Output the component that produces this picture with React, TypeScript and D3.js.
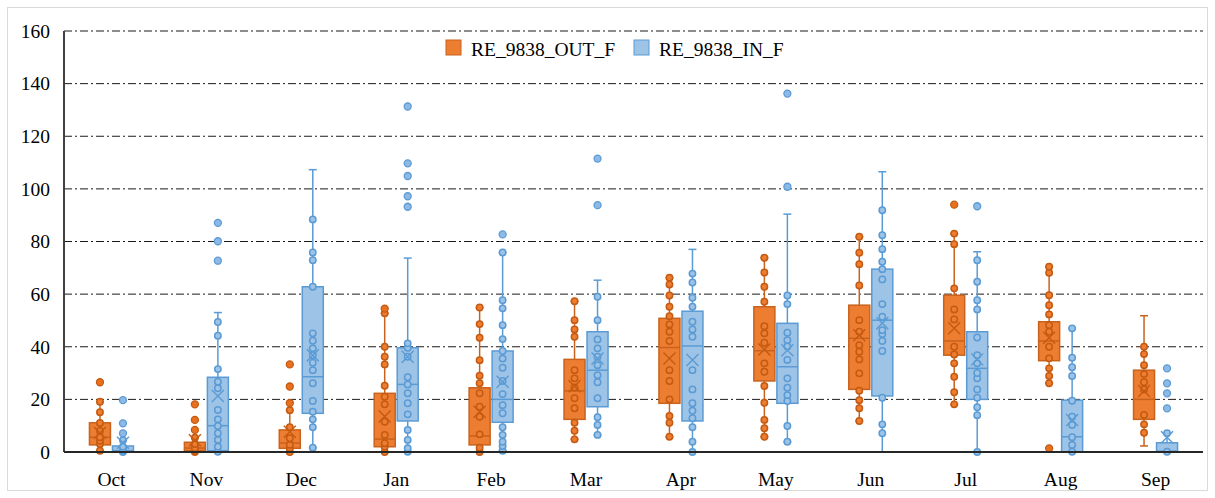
import React from "react";
import * as d3 from "d3";

// ---------- DATA ----------
const months = ["Oct", "Nov", "Dec", "Jan", "Feb", "Mar", "Apr", "May", "Jun", "Jul", "Aug", "Sep"];
const yTicks = [0, 20, 40, 60, 80, 100, 120, 140, 160];
const seriesNames = ["RE_9838_OUT_F", "RE_9838_IN_F"];

// RE_9838_OUT_F
const outMin = [0.5, 0, 0, 0, 0, 4.8, 5.8, 5.8, 11.8, 18.1, 26.1, 2.3];
const outQ1 = [2.7, 0.5, 1.4, 2.0, 2.7, 12.4, 18.5, 27, 23.8, 36.8, 34.7, 12.4];
const outMedian = [5.6, 1.5, 3.4, 4.9, 6.1, 23.2, 39.7, 38.5, 43.2, 42.2, 42.2, 20];
const outQ3 = [11.1, 3.7, 8.4, 22.3, 24.4, 35.2, 50.8, 55.2, 55.8, 59.6, 49.5, 31.1];
const outMax = [19.1, 5.4, 15.9, 52.7, 54.9, 57.3, 66.2, 73.8, 81.8, 83, 70.4, 51.8];
const outMean = [7.2, 4.5, 7.7, 13.5, 15.3, 25, 35.5, 39, 44.4, 47, 43.4, 23.2];
const outInner = [
  [0.5, 3, 4.3, 5.6, 8, 11, 15.1, 19.1],
  [0, 0.5, 1.5, 3, 5.4],
  [0, 1.4, 2.7, 5.2, 9.4, 15.9],
  [0, 2, 3.3, 6.5, 11.5, 18.1, 21, 25.2, 33.3, 36.2, 40, 52.7],
  [0, 1.6, 6.7, 13.4, 17.2, 22.3, 26.1, 29, 34.9, 43.4, 48.6, 54.9],
  [4.8, 8.1, 11.1, 16.6, 20.4, 24.5, 28, 31.1, 43.8, 46.6, 50.1, 57.3],
  [5.8, 11.1, 13.7, 20, 27, 31.1, 42.2, 45.7, 48.5, 51.6, 55.2, 59.5, 63.7, 66.2],
  [5.8, 9, 12.2, 18.7, 25.1, 30.5, 33.7, 41.5, 45.1, 47.8, 57.1, 62.8, 68.2, 73.8],
  [11.8, 16.6, 19.7, 23.3, 29.9, 35.2, 38.1, 40.6, 45.7, 50.1, 63.3, 71.4, 75.7, 81.8],
  [18.1, 22.7, 28.6, 33.7, 37.1, 40, 50.4, 54.2, 62.2, 79, 83],
  [26.1, 28.9, 31.8, 35.6, 40, 45.7, 48.2, 52.3, 55.8, 59.6, 68.1, 70.4],
  [7.3, 10.5, 14.1, 23.8, 26.5, 29.6, 33, 37.2, 40],
];
const outOutliers = [
  [26.5], [8.4, 12.2, 18.1], [18.6, 24.9, 33.3], [54.5], [], [], [], [], [], [94], [1.4], [],
];

// RE_9838_IN_F
const inMin = [0, 0, 1.6, 0, 0.5, 6.5, 0, 3.9, 0, 0, 0, 0];
const inQ1 = [0, 0.5, 14.7, 11.8, 11.3, 17.2, 11.8, 18.5, 21.3, 20, 0, 0];
const inMedian = [0.5, 10, 28.6, 25.7, 20, 31.1, 40.3, 32.4, 50.1, 31.8, 5.8, 0.3];
const inQ3 = [2.3, 28.4, 62.8, 39.6, 38.4, 45.7, 53.5, 48.9, 69.5, 45.7, 19.7, 3.5];
const inMax = [4.5, 53, 107.3, 73.7, 75.8, 65.3, 77, 90.4, 106.5, 76.1, 47, 7.1];
const inMean = [3.5, 21.3, 36.8, 36.2, 26.7, 35.5, 35, 38.7, 48.9, 35.2, 12.2, 5.6];
const inInner = [
  [0, 0.5, 1, 2, 4.5],
  [0.1, 2, 4.6, 7.1, 9.9, 12.4, 16, 24.2, 26.7, 31.5, 44.2, 49.4],
  [1.6, 9.4, 12.4, 15.3, 19.4, 26.1, 31.1, 33.9, 36.8, 39.4, 42.3, 45.1, 62.8, 72.9, 75.8, 88.4],
  [0.1, 1.4, 4.6, 8.4, 14.3, 18.5, 22.3, 25.7, 28.4, 36.2, 39.6, 41.3],
  [0.5, 2.3, 3.9, 6.5, 9.4, 14.7, 17.8, 22, 27, 32, 35.5, 38.4, 42.9, 48.2, 54.6, 57.7, 75.8],
  [6.5, 10.3, 13.2, 20.4, 26.5, 29.2, 33, 36.2, 39.4, 42.8, 50.1, 59],
  [0, 3.9, 9.4, 12.8, 15.7, 18.5, 23.8, 31.1, 43.8, 46.6, 49.5, 55.2, 58.6, 64.4, 67.8],
  [3.9, 9.9, 19.4, 21.6, 24.4, 28, 35, 40.1, 42.5, 45.3, 56.2, 59.5],
  [7.1, 10.5, 20.6, 38.4, 42.2, 44.8, 46.3, 51.4, 56.2, 65.6, 69.5, 72.3, 77.1, 82.4, 91.9],
  [0, 14, 17, 20.6, 23.8, 28, 30, 33.7, 36.8, 43.5, 54.2, 57.7, 64.7, 72.9],
  [0.1, 2.7, 5.6, 10.3, 13.4, 19.5, 28.9, 32.2, 35.8, 47],
  [0.1, 7.1],
];
const inOutliers = [
  [7.1, 10.9, 19.7], [72.7, 80.1, 87.1], [], [93.2, 97.2, 104.9, 109.7, 131.3], [82.7],
  [93.8, 111.5], [], [100.8, 136.2], [], [93.4], [], [16.6, 22.3, 26.1, 31.8],
];

// ---------- STYLE ----------
const W = 1215;
const H = 498;
const FONT = "Liberation Serif, Times New Roman, DejaVu Serif, serif";
const styles = [
  { fill: "#ED7D31", stroke: "#C9621C", ptFill: "#E8711F", ptStroke: "#C55A11" },
  { fill: "#9DC3E6", stroke: "#5B9BD5", ptFill: "#8DB9E4", ptStroke: "#5B9BD5" },
];

export default function App() {
  const x = d3.scaleBand<string>().domain(months).range([64, 1203]).padding(0);
  const y = d3.scaleLinear().domain([0, 160]).range([452, 31]);
  const boxW = 23;

  const series = [
    { min: outMin, q1: outQ1, med: outMedian, q3: outQ3, max: outMax, mean: outMean, inner: outInner, outl: outOutliers },
    { min: inMin, q1: inQ1, med: inMedian, q3: inQ3, max: inMax, mean: inMean, inner: inInner, outl: inOutliers },
  ];

  const left = 64;
  const right = 1203;

  return (
    <svg width={W} height={H} style={{ position: "absolute", left: 0, top: 0, background: "#fff", fontFamily: FONT }}>
      <rect x={7.5} y={7.5} width={1200} height={483} fill="#fff" stroke="#d9d9d9" strokeWidth={1} />
      {/* gridlines */}
      {yTicks.filter((t) => t > 0).map((t) => (
        <line key={"g" + t} x1={left} x2={right} y1={y(t)} y2={y(t)} stroke="#000" strokeWidth={0.9}
          strokeDasharray="8,3,2,3" />
      ))}
      {/* y tick labels */}
      {yTicks.map((t) => (
        <text key={"yl" + t} x={50} y={y(t)} dy="0.35em" textAnchor="end" style={{ fontFamily: FONT }} fontSize={19.5} fill="#000">
          {t}
        </text>
      ))}
      {/* x labels */}
      {months.map((m) => (
        <text key={"xl" + m} x={(x(m) as number) + x.bandwidth() / 2} y={486} textAnchor="middle"
          style={{ fontFamily: FONT }} fontSize={19.5} fill="#000">
          {m}
        </text>
      ))}
      {/* boxes */}
      {months.map((m, i) => {
        const c = (x(m) as number) + x.bandwidth() / 2;
        return series.map((s, si) => {
          const st = styles[si];
          const x0 = si === 0 ? c - boxW : c;
          const cx = x0 + boxW / 2;
          const capW = 4;
          const m0 = s.mean[i];
          const xs = 6;
          return (
            <g key={m + si}>
              <line x1={cx} x2={cx} y1={y(s.q3[i])} y2={y(s.max[i])} stroke={st.stroke} strokeWidth={1.5} />
              <line x1={cx} x2={cx} y1={y(s.q1[i])} y2={y(s.min[i])} stroke={st.stroke} strokeWidth={1.5} />
              <line x1={cx - capW} x2={cx + capW} y1={y(s.max[i])} y2={y(s.max[i])} stroke={st.stroke} strokeWidth={1.5} />
              <line x1={cx - capW} x2={cx + capW} y1={y(s.min[i])} y2={y(s.min[i])} stroke={st.stroke} strokeWidth={1.5} />
              <rect x={x0 + 1} y={y(s.q3[i])} width={boxW - 2} height={Math.max(0.5, y(s.q1[i]) - y(s.q3[i]))}
                fill={st.fill} stroke={st.stroke} strokeWidth={1.5} />
              <line x1={x0 + 1} x2={x0 + boxW - 1} y1={y(s.med[i])} y2={y(s.med[i])} stroke={st.stroke} strokeWidth={1.5} />
              {s.inner[i].map((v, k) => (
                <circle key={"i" + k} cx={cx} cy={y(v)} r={3.2} fill={st.fill} stroke={st.ptStroke} strokeWidth={1.5} />
              ))}
              {s.outl[i].map((v, k) => (
                <circle key={"o" + k} cx={cx} cy={y(v)} r={3.5} fill={st.ptFill} stroke={st.ptStroke} strokeWidth={1.3} />
              ))}
              <path d={`M${cx - xs},${y(m0) - xs}L${cx + xs},${y(m0) + xs}M${cx - xs},${y(m0) + xs}L${cx + xs},${y(m0) - xs}`}
                stroke={st.ptStroke} strokeWidth={1.4} fill="none" />
            </g>
          );
        });
      })}
      {/* axes */}
      <line x1={left} x2={left} y1={31} y2={452} stroke="#404040" strokeWidth={2} />
      <line x1={left} x2={right} y1={452} y2={452} stroke="#262626" strokeWidth={1.8} />
      {/* legend */}
      <rect x={446} y={40} width={15} height={15} fill={styles[0].fill} stroke={styles[0].stroke} strokeWidth={1} />
      <text x={471} y={55.5} style={{ fontFamily: FONT }} fontSize={19.5} fill="#000">{seriesNames[0]}</text>
      <rect x={634} y={40} width={15} height={15} fill={styles[1].fill} stroke={styles[1].stroke} strokeWidth={1} />
      <text x={659} y={55.5} style={{ fontFamily: FONT }} fontSize={19.5} fill="#000">{seriesNames[1]}</text>
    </svg>
  );
}
